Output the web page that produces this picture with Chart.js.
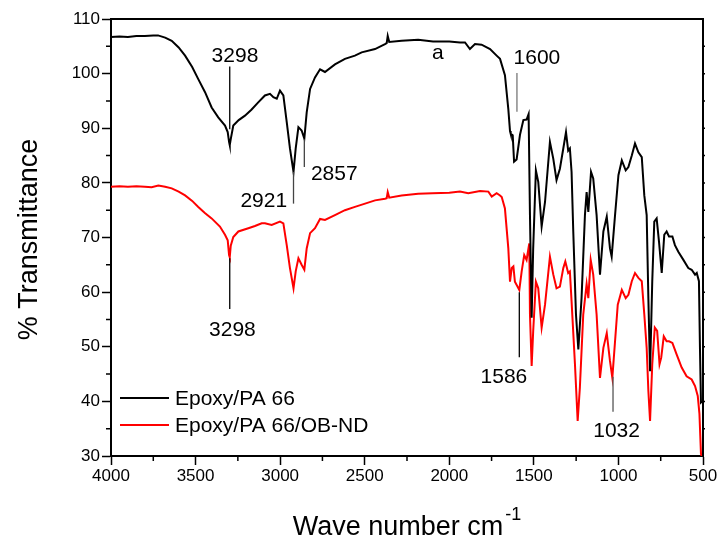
<!DOCTYPE html>
<html>
<head>
<meta charset="utf-8">
<script src="https://cdn.jsdelivr.net/npm/chart.js@4.4.1/dist/chart.umd.min.js"></script>
<style>
  body { margin: 0; background: #fff; }
  canvas { display: block; }
</style>
</head>
<body>
<canvas id="ftir" width="721" height="542"></canvas>
<script>
// wave numbers (cm-1) and % transmittance
const wnBlack = [4000, 3950, 3900, 3850, 3800, 3750, 3722, 3680, 3641, 3600, 3562, 3520, 3484, 3444, 3405, 3366, 3326, 3310, 3302, 3298, 3292, 3277, 3245, 3208, 3170, 3131, 3090, 3060, 3040, 3020, 3001, 2981, 2961, 2942, 2921, 2908, 2892, 2873, 2857, 2843, 2823, 2794, 2764, 2735, 2676, 2617, 2558, 2518, 2439, 2380, 2370, 2364, 2355, 2282, 2184, 2096, 2000, 1937, 1907, 1878, 1848, 1809, 1759, 1720, 1700, 1671, 1651, 1641, 1637, 1625, 1617, 1602, 1582, 1562, 1543, 1531, 1523, 1513, 1504, 1488, 1474, 1454, 1434, 1405, 1385, 1366, 1346, 1326, 1310, 1297, 1287, 1277, 1267, 1251, 1237, 1218, 1198, 1188, 1178, 1162, 1149, 1129, 1109, 1089, 1069, 1050, 1040, 1020, 1000, 980, 957, 941, 921, 902, 882, 862, 847, 833, 823, 813, 800, 788, 774, 760, 744, 729, 715, 701, 681, 666, 646, 616, 587, 567, 547, 537, 524, 518, 512, 505];
const tBlack = [106.7, 106.8, 106.7, 106.9, 106.9, 107.0, 107.0, 106.6, 106.0, 104.8, 103.3, 101.2, 99.0, 96.6, 93.8, 92.0, 90.5, 89.3, 87.5, 86.9, 88.0, 90.5, 91.5, 92.3, 93.4, 94.7, 96.0, 96.3, 95.7, 95.4, 96.9, 96.0, 91.1, 86.3, 82.0, 86.3, 90.2, 89.6, 88.1, 92.9, 97.2, 99.3, 100.8, 100.3, 101.7, 102.7, 103.3, 103.9, 104.5, 105.4, 105.6, 106.9, 105.8, 106.0, 106.2, 105.9, 105.9, 105.7, 105.7, 104.5, 105.4, 105.3, 104.5, 103.3, 102.7, 99.7, 93.5, 89.5, 89.0, 88.7, 83.9, 84.3, 88.8, 91.5, 91.6, 92.6, 74.1, 55.3, 68.0, 82.3, 80.2, 72.0, 76.5, 87.5, 84.4, 80.5, 82.6, 86.3, 89.3, 85.9, 86.3, 82.0, 71.1, 55.9, 49.5, 58.9, 74.1, 78.3, 74.7, 82.0, 80.8, 74.1, 63.2, 71.1, 73.8, 68.0, 66.5, 74.1, 81.4, 84.1, 82.3, 82.9, 85.0, 87.2, 85.6, 84.7, 77.7, 74.1, 58.9, 45.5, 62.0, 72.9, 73.5, 69.2, 63.5, 70.5, 71.1, 70.2, 70.2, 68.6, 67.4, 65.9, 64.4, 64.1, 63.2, 63.5, 62.0, 49.8, 39.8, 40.0];

const wnRed = [4000, 3950, 3900, 3850, 3800, 3760, 3720, 3680, 3641, 3600, 3562, 3520, 3484, 3445, 3405, 3356, 3326, 3310, 3302, 3298, 3292, 3277, 3247, 3188, 3149, 3109, 3090, 3050, 3001, 2981, 2961, 2942, 2921, 2908, 2892, 2873, 2857, 2843, 2823, 2794, 2764, 2735, 2676, 2617, 2558, 2498, 2439, 2380, 2370, 2364, 2355, 2282, 2184, 2100, 2000, 1937, 1888, 1818, 1769, 1749, 1720, 1700, 1690, 1671, 1651, 1641, 1631, 1621, 1612, 1586, 1572, 1557, 1543, 1527, 1523, 1513, 1504, 1488, 1474, 1454, 1434, 1405, 1385, 1366, 1346, 1326, 1314, 1297, 1287, 1277, 1257, 1241, 1228, 1208, 1188, 1178, 1164, 1149, 1129, 1109, 1089, 1069, 1050, 1036, 1020, 1004, 980, 957, 941, 921, 902, 882, 862, 847, 833, 823, 813, 800, 785, 771, 757, 747, 732, 715, 701, 681, 656, 626, 597, 567, 547, 531, 521, 512, 508];
const tRed = [79.3, 79.4, 79.3, 79.4, 79.3, 79.2, 79.5, 79.3, 79.0, 78.4, 77.7, 76.7, 75.6, 74.5, 73.5, 72.0, 70.5, 69.5, 66.8, 66.4, 68.5, 70.1, 71.1, 71.7, 72.1, 72.6, 72.6, 72.3, 72.9, 72.6, 68.6, 64.4, 60.7, 63.8, 66.2, 65.0, 64.1, 68.0, 70.8, 71.7, 73.4, 73.2, 74.1, 75.0, 75.6, 76.2, 76.8, 77.1, 77.2, 78.3, 77.3, 77.7, 78.0, 78.1, 78.2, 78.4, 78.1, 78.5, 78.4, 77.5, 78.1, 77.7, 77.4, 75.3, 68.0, 61.9, 64.4, 64.7, 61.9, 60.4, 63.8, 66.8, 65.9, 68.9, 55.9, 46.5, 52.8, 61.9, 60.7, 53.5, 57.7, 66.5, 63.2, 60.7, 61.0, 64.4, 65.6, 63.5, 63.8, 58.3, 46.8, 36.4, 42.5, 55.9, 61.5, 58.9, 65.9, 63.2, 55.9, 44.3, 49.8, 52.5, 47.4, 44.3, 51.0, 57.7, 60.4, 58.9, 59.5, 62.0, 63.5, 62.6, 62.0, 55.9, 49.8, 41.9, 36.4, 46.8, 53.5, 52.9, 46.8, 48.0, 51.9, 51.0, 51.0, 50.7, 48.6, 46.2, 44.6, 44.0, 42.8, 41.0, 37.7, 30.4, 30.0];

const seriesNames = ['Epoxy/PA 66', 'Epoxy/PA 66/OB-ND'];
const seriesColors = ['#000000', '#ff0000'];

// peak marks: label, wave number, line from/to (% T), label anchor (wave number, % T baseline)
const peaks = [
  { text: '3298', wn: 3298, y1: 101.3, y2: 89.8, tx: 3267, ty: 102.1, color: '#000' },
  { text: '2921', wn: 2921, y1: 82.0, y2: 76.2, tx: 3097, ty: 75.6, color: '#444' },
  { text: '2857', wn: 2857, y1: 88.0, y2: 82.9, tx: 2680, ty: 80.5, color: '#444' },
  { text: '1600', wn: 1600, y1: 100.1, y2: 93.0, tx: 1482, ty: 101.8, color: '#777' },
  { text: '3298', wn: 3298, y1: 66.2, y2: 56.9, tx: 3282, ty: 52.0, color: '#000' },
  { text: '1586', wn: 1586, y1: 60.0, y2: 48.1, tx: 1677, ty: 43.4, color: '#000' },
  { text: '1032', wn: 1032, y1: 44.5, y2: 38.1, tx: 1011, ty: 33.5, color: '#555' },
  { text: 'a', tx: 2067, ty: 102.7 }
];

const FONT = "Arial, 'Liberation Sans', sans-serif";

function toPoints(xs, ys) {
  return xs.map((x, i) => ({ x: x, y: ys[i] }));
}

const decor = {
  id: 'decor',
  afterDraw(chart) {
    const ctx = chart.ctx;
    const a = chart.chartArea;
    const xs = chart.scales.x;
    const ys = chart.scales.y;
    ctx.save();

    // frame top + right
    ctx.strokeStyle = '#000';
    ctx.lineWidth = 2;
    ctx.beginPath();
    ctx.moveTo(a.left, a.top);
    ctx.lineTo(a.right, a.top);
    ctx.lineTo(a.right, a.bottom);
    ctx.stroke();

    // minor ticks
    ctx.lineWidth = 1.5;
    ctx.beginPath();
    for (let v = 750; v < 4000; v += 500) {
      const px = xs.getPixelForValue(v);
      ctx.moveTo(px, a.bottom);
      ctx.lineTo(px, a.bottom + 5);
    }
    for (let v = 35; v < 110; v += 10) {
      const py = ys.getPixelForValue(v);
      ctx.moveTo(a.left - 5, py);
      ctx.lineTo(a.left, py);
    }
    for (let v = 35; v < 110; v += 5) {
      const py = ys.getPixelForValue(v);
      ctx.moveTo(a.right, py);
      ctx.lineTo(a.right + 2, py);
    }
    ctx.stroke();

    // peak marks
    ctx.font = '21px ' + FONT;
    ctx.textAlign = 'center';
    ctx.textBaseline = 'alphabetic';
    peaks.forEach(p => {
      if (p.wn) {
        const px = xs.getPixelForValue(p.wn);
        ctx.strokeStyle = p.color;
        ctx.lineWidth = 1.3;
        ctx.beginPath();
        ctx.moveTo(px, ys.getPixelForValue(p.y1));
        ctx.lineTo(px, ys.getPixelForValue(p.y2));
        ctx.stroke();
      }
      ctx.fillStyle = '#000';
      ctx.fillText(p.text, xs.getPixelForValue(p.tx), ys.getPixelForValue(p.ty));
    });

    // legend
    ctx.textAlign = 'left';
    ctx.textBaseline = 'middle';
    seriesNames.forEach((name, i) => {
      const ly = 398 + i * 27;
      ctx.strokeStyle = seriesColors[i];
      ctx.lineWidth = 2;
      ctx.beginPath();
      ctx.moveTo(120, ly);
      ctx.lineTo(169, ly);
      ctx.stroke();
      ctx.fillStyle = '#000';
      ctx.fillText(name, 175, ly + 1);
    });

    // axis titles
    ctx.fillStyle = '#000';
    ctx.textBaseline = 'alphabetic';
    ctx.font = '27px ' + FONT;
    const main = 'Wave number cm';
    const w1 = ctx.measureText(main).width;
    ctx.font = '18px ' + FONT;
    const w2 = ctx.measureText('-1').width;
    const cx = (a.left + a.right) / 2;
    const sx = cx - (w1 + w2 + 2) / 2;
    ctx.font = '27px ' + FONT;
    ctx.fillText(main, sx, 535);
    ctx.font = '18px ' + FONT;
    ctx.fillText('-1', sx + w1 + 2, 520);

    ctx.font = '27px ' + FONT;
    ctx.translate(30, (a.top + a.bottom) / 2 + 2);
    ctx.rotate(-Math.PI / 2);
    ctx.textAlign = 'center';
    ctx.textBaseline = 'middle';
    ctx.fillText('% Transmittance', 0, 0);
    ctx.restore();
  }
};

new Chart(document.getElementById('ftir'), {
  type: 'line',
  data: {
    datasets: [
      {
        label: seriesNames[0],
        data: toPoints(wnBlack, tBlack),
        borderColor: seriesColors[0],
        borderWidth: 2,
        pointRadius: 0,
        tension: 0
      },
      {
        label: seriesNames[1],
        data: toPoints(wnRed, tRed),
        borderColor: seriesColors[1],
        borderWidth: 2,
        pointRadius: 0,
        tension: 0
      }
    ]
  },
  options: {
    responsive: false,
    animation: false,
    devicePixelRatio: 1,
    layout: { padding: { left: 0, top: 19, right: 18, bottom: 0 } },
    plugins: {
      legend: { display: false },
      tooltip: { enabled: false }
    },
    scales: {
      x: {
        type: 'linear',
        reverse: true,
        min: 500,
        max: 4000,
        afterFit(s) { s.height = 86; },
        border: { display: true, color: '#000', width: 2 },
        grid: { drawOnChartArea: false, drawTicks: true, tickLength: 9, tickWidth: 1.5, tickColor: '#000' },
        ticks: {
          stepSize: 500,
          maxRotation: 0,
          padding: 1,
          color: '#000',
          font: { family: FONT, size: 17 },
          callback: v => String(v)
        }
      },
      y: {
        min: 30,
        max: 110,
        afterFit(s) { s.width = 111; },
        border: { display: true, color: '#000', width: 2 },
        grid: { drawOnChartArea: false, drawTicks: true, tickLength: 9, tickWidth: 1.5, tickColor: '#000' },
        ticks: {
          stepSize: 10,
          padding: 2,
          color: '#000',
          font: { family: FONT, size: 17 },
          callback: v => String(v)
        }
      }
    }
  },
  plugins: [decor]
});
</script>
</body>
</html>
